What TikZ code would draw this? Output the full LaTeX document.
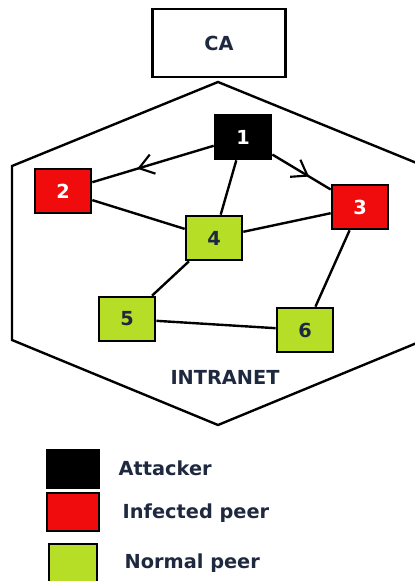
\documentclass[tikz,border=0pt]{standalone}
\usepackage{fontspec}
\setmainfont{DejaVu Sans}
\usetikzlibrary{arrows.meta,decorations.markings}
\definecolor{attacker}{RGB}{0,0,0}
\definecolor{infected}{RGB}{240,12,12}
\definecolor{normal}{RGB}{182,222,38}
\definecolor{ink}{RGB}{30,40,62}

\begin{document}
\begin{tikzpicture}[x=0.75pt, y=-0.75pt,
	% texto em negrito
	txt/.style={font=\bfseries\fontsize{14.5}{17}\selectfont, text=ink},
	% caixas dos peers
	peer/.style={txt, draw, line width=2pt, minimum width=42pt, minimum height=33pt, inner sep=0pt},
	attack/.style={peer, fill=attacker, text=white},
	infect/.style={peer, fill=infected, text=white},
	normalp/.style={peer, fill=normal},
	% caixas da legenda
	legbox/.style={draw, line width=2pt, minimum width=39pt, minimum height=28.5pt, inner sep=0pt},
	link/.style={line width=1.8pt},
	% seta no meio da ligacao
	midarrow/.style={postaction={decorate}, decoration={markings,
		mark=at position 0.63 with {\arrow{Straight Barb[angle=70:13pt,line width=1.6pt]}}}},
	]
\useasboundingbox (0,0) rectangle (414,581);

% CA e intranet
\node[txt, draw, line width=2pt, minimum width=100pt, minimum height=51pt] (ca) at (219,43) {CA};
\draw[line width=1.8pt] (218,82) -- (12,166) -- (12,340) -- (218,425) -- (424,340) -- (424,166) -- cycle;
\node[txt] (intranet) at (225,377) {INTRANET};

% peers
\node[attack] (n1) at (243,137) {1};
\node[infect] (n2) at (63,191) {2};
\node[infect] (n3) at (360,207) {3};
\node[normalp] (n4) at (214,238) {4};
\node[normalp] (n5) at (127,319) {5};
\node[normalp] (n6) at (305,330) {6};

% ligacoes
\draw[link, midarrow] (n1) -- (n2);
\draw[link, midarrow] (n1) -- (n3);
\draw[link] (n1) -- (n4);
\draw[link] (n2) -- (n4);
\draw[link] (n4) -- (n3);
\draw[link] (n3) -- (n6);
\draw[link] (n4) -- (n5);
\draw[link] (n5) -- (n6);

% legenda
\node[legbox, fill=attacker] (leg1) at (73,469) {};
\node[legbox, fill=infected] (leg2) at (73,512) {};
\node[legbox, fill=normal, minimum width=36pt] (leg3) at (73,563) {};
\node[txt, anchor=west] (lab1) at (114,468) {Attacker};
\node[txt, anchor=west] (lab2) at (118,513) {Infected peer};
\node[txt, anchor=west] (lab3) at (120,563) {Normal peer};
\end{tikzpicture}
\end{document}
